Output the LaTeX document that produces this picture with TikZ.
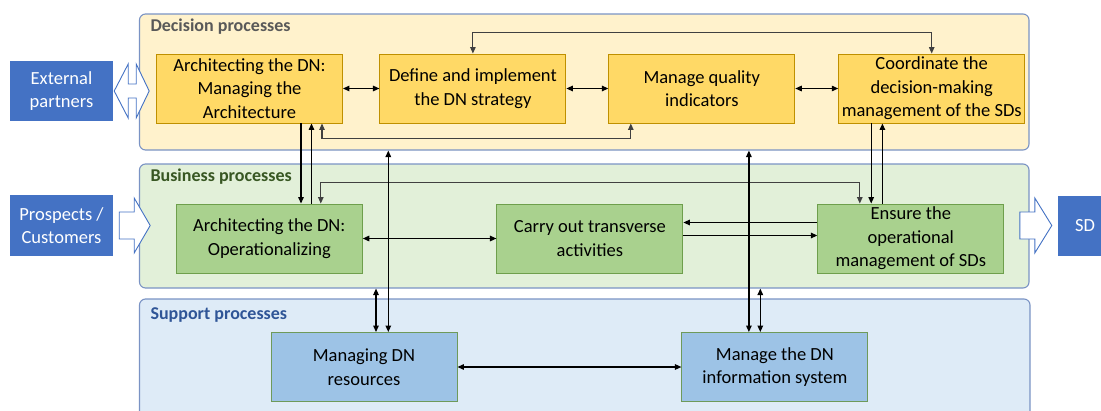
\documentclass[tikz,border=0pt]{standalone}
\usepackage{fontspec}
\setmainfont{Carlito}
\usepackage{tikz}
\usetikzlibrary{positioning,arrows.meta,calc}
\definecolor{decfill}{HTML}{FFF2CC}
\definecolor{busfill}{HTML}{E2F0D9}
\definecolor{supfill}{HTML}{DEEBF7}
\definecolor{laneline}{HTML}{7A93C4}
\definecolor{decbox}{HTML}{FFD966}
\definecolor{decline}{HTML}{BF9000}
\definecolor{busbox}{HTML}{A9D18E}
\definecolor{busline}{HTML}{6E9F4C}
\definecolor{supbox}{HTML}{9DC3E6}
\definecolor{supline}{HTML}{6E9A5A}
\definecolor{extblue}{HTML}{4472C4}
\definecolor{loopgray}{HTML}{404040}
\definecolor{titlegray}{HTML}{595959}
\definecolor{titlegreen}{HTML}{385723}
\definecolor{titleblue}{HTML}{2F5597}

\begin{document}
\begin{tikzpicture}[
        x=1pt, y=-1pt,
        font=\fontsize{18.5}{23.5}\selectfont,
        >={Triangle[length=6.5pt,width=5.5pt]},
        lane/.style={rectangle, rounded corners=6pt, draw=laneline, line width=1.1pt, fill=#1, minimum width=889.5pt},
        lanetitle/.style={anchor=base west, font=\fontsize{18}{20}\selectfont\bfseries, text=#1},
        proc/.style 2 args={rectangle, draw=#1, fill=#2, line width=0.9pt, minimum width=186pt, minimum height=69pt, inner sep=2pt, align=center},
        outside/.style={rectangle, fill=extblue, text=white, minimum width=103pt, minimum height=60pt, align=center},
        fatarrow/.style={draw=extblue, fill=white, line width=0.9pt, line join=miter},
        link/.style={line width=1.3pt, draw=black},
        graylink/.style={<->, line width=1.1pt, draw=loopgray}
    ]
        \useasboundingbox (0,0) rectangle (1101,410);

        % lanes
        \node[lane=decfill, minimum height=136pt] (dec) at (584.25,82) {};
        \node[lane=busfill, minimum height=124pt] (bus) at (584.25,226) {};
        \node[lane=supfill, minimum height=121pt, minimum width=890.5pt] (sup) at (584.75,359.5) {};
        \node[lanetitle=titlegray] (dectitle) at (147,31.7) {Decision processes};
        \node[lanetitle=titlegreen] (bustitle) at (147,181.7) {Business processes};
        \node[lanetitle=titleblue] (suptitle) at (147,319) {Support processes};

        % decision processes
        \node[proc={decline}{decbox}] (manarch) at (249.5,88.5) {Architecting the DN:\\Managing the\\Architecture};
        \node[proc={decline}{decbox}, right=36.5pt of manarch] (strategy) {Define and implement\\the DN strategy};
        \node[proc={decline}{decbox}, right=42pt of strategy] (quality) {Manage quality\\indicators};
        \node[proc={decline}{decbox}, right=43pt of quality] (coord) {Coordinate the\\decision-making\\management of the SDs};

        % business processes
        \node[proc={busline}{busbox}] (oper) at (269.3,238.5) {Architecting the DN:\\Operationalizing};
        \node[proc={busline}{busbox}, right=133.7pt of oper] (transv) {Carry out transverse\\activities};
        \node[proc={busline}{busbox}, right=134pt of transv] (opman) {Ensure the\\operational\\management of SDs};

        % support processes
        \node[proc={supline}{supbox}] (resources) at (364,367) {Managing DN\\resources};
        \node[proc={supline}{supbox}, right=224pt of resources] (infosys) {Manage the DN\\information system};

        % outside
        \node[outside] (partners) at (61.5,91) {External\\partners};
        \node[outside, minimum height=61pt] (customers) at (61.5,225.5) {Prospects /\\Customers};
        \node[outside, minimum width=54pt] (sd) at (1085,225.5) {SD};

        \draw[fatarrow] ([xshift=1pt]partners.east) -- ++(14,-27) -- ++(0,20) -- ++(8,0) -- ++(0,-20) -- ++(13,27)
            -- ++(-13,27) -- ++(0,-20) -- ++(-8,0) -- ++(0,20) -- cycle;
        \draw[fatarrow] ([xshift=6pt]customers.east) -- ++(0,-13.5) -- ++(15,0) -- ++(0,-14) -- ++(16,27.5)
            -- ++(-16,27.5) -- ++(0,-14) -- ++(-15,0) -- cycle;
        \draw[fatarrow] ([xshift=-38pt]sd.west) -- ++(0,-13.5) -- ++(15,0) -- ++(0,-14) -- ++(17,27.5)
            -- ++(-17,27.5) -- ++(0,-14) -- ++(-15,0) -- cycle;

        % links
        \draw[link, <->] (manarch) -- (strategy);
        \draw[link, <->] (strategy) -- (quality);
        \draw[link, <->] (quality) -- (coord);
        \draw[graylink] (strategy.north) -- ++(0,-21) -| (coord.north);
        \draw[graylink] ([xshift=72.5pt]manarch.south) -- ++(0,15) -| ([xshift=-71pt]quality.south);

        \draw[link, ->] ([xshift=51.5pt]manarch.south) -- ([xshift=51.5pt]manarch.south |- oper.north);
        \draw[link, <-] ([xshift=62pt]manarch.south) -- ([xshift=62pt]manarch.south |- oper.north);
        \draw[link, ->] ([xshift=-60.5pt]coord.south) -- ([xshift=-60.5pt]coord.south |- opman.north);
        \draw[link, <-] ([xshift=-49.3pt]coord.south) -- ([xshift=-49.3pt]coord.south |- opman.north);
        \draw[graylink] ([xshift=51.5pt]oper.north) -- ++(0,-21) -| ([xshift=-51pt]opman.north);

        \draw[link, <->] (oper) -- (transv);
        \draw[link, ->] ([yshift=16pt]opman.west) -- ([yshift=16pt]opman.west -| transv.east);
        \draw[link, ->] ([yshift=3pt]transv.east) -- ([yshift=3pt]transv.east -| opman.west);
        \draw[link, <->] (resources) -- (infosys);

        \draw[link, <->] ([xshift=24.3pt]resources.north) -- ([xshift=24.3pt]resources.north |- dec.south);
        \draw[link, <->] ([xshift=12pt]resources.north) -- ([xshift=12pt]resources.north |- bus.south);
        \draw[link, <->] ([xshift=-26pt]infosys.north) -- ([xshift=-26pt]infosys.north |- dec.south);
        \draw[link, <->] ([xshift=-14.6pt]infosys.north) -- ([xshift=-14.6pt]infosys.north |- bus.south);
    \end{tikzpicture}
\end{document}
